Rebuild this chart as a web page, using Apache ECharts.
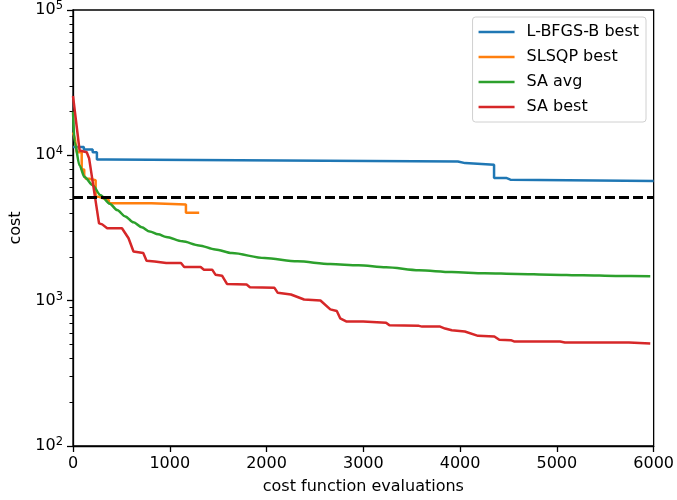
<!DOCTYPE html>
<html>
<head>
<meta charset="utf-8">
<script src="https://cdn.jsdelivr.net/npm/echarts@6/dist/echarts.min.js"></script>
<style>
  html, body { margin: 0; padding: 0; background: #fff; }
  #chart { width: 677px; height: 500px; }
</style>
</head>
<body>
<div id="chart"></div>
<script>
// L-BFGS-B best (step)
const lbfgsEvals = [0, 112, 203, 247, 349, 3977, 4052, 4351, 4476, 4520, 6000];
const lbfgsCost = [11400, 10950, 10500, 9360, 9070, 8840, 8610, 6990, 6800, 6665, 6665];

// SLSQP best (step)
const slsqpEvals = [0, 20, 40, 90, 116, 133, 167, 234, 269, 320, 371, 811, 1167, 1304];
const slsqpCost = [14400, 13000, 10500, 8000, 7300, 6900, 6730, 5180, 5050, 4910, 4680, 4590, 4030, 4030];

// SA avg
const saAvgEvals = [0, 17, 68, 119, 203, 285, 380, 456, 540, 625, 710, 793, 880, 963, 1130, 1302, 1470, 1642, 1981, 2319, 2659, 2950, 3235, 3575, 3914, 4253, 4592, 4931, 5270, 5609, 5965];
const saAvgCost = [20000, 12300, 8500, 7100, 6230, 5310, 4650, 4200, 3800, 3460, 3200, 2990, 2860, 2740, 2560, 2400, 2250, 2124, 1963, 1864, 1786, 1750, 1697, 1618, 1575, 1543, 1527, 1510, 1496, 1480, 1472];

// SA best
const saBestEvals = [0, 68, 142, 167, 269, 302, 353, 506, 574, 625, 726, 760, 844, 963, 1116, 1149, 1319, 1353, 1438, 1472, 1540, 1591, 1794, 1828, 2082, 2116, 2252, 2388, 2557, 2659, 2726, 2761, 2828, 2998, 3235, 3270, 3575, 3608, 3794, 3845, 3914, 4049, 4185, 4354, 4405, 4524, 4557, 5033, 5083, 5745, 5965];
const saBestCost = [25600, 10800, 10500, 9500, 3400, 3350, 3150, 3150, 2690, 2180, 2125, 1880, 1860, 1815, 1815, 1704, 1704, 1634, 1634, 1510, 1486, 1304, 1290, 1239, 1225, 1132, 1102, 1019, 1003, 871, 849, 756, 718, 718, 706, 677, 671, 663, 663, 643, 626, 613, 573, 567, 538, 535, 524, 524, 516, 516, 508];

const threshold = 5150;

const xTicks = [0, 1000, 2000, 3000, 4000, 5000, 6000];
const yMinorTicks = [];
[100, 1000, 10000].forEach((d) => {
  for (let k = 2; k <= 9; k++) yMinorTicks.push(k * d);
});

const zip = (xs, ys) => xs.map((x, i) => [x, ys[i]]);

const font = 'DejaVu Sans';
const chart = echarts.init(document.getElementById('chart'), null, { renderer: 'canvas' });

const lineSeries = (name, data, color, step) => ({
  name,
  type: 'line',
  data,
  step: step ? 'end' : false,
  showSymbol: false,
  symbol: 'none',
  lineStyle: { color, width: 2.5 },
  itemStyle: { color },
  animation: false,
});

const option = {
  backgroundColor: '#fff',
  animation: false,
  textStyle: { fontFamily: font, color: '#000' },
  grid: {
    left: 65,
    right: 22,
    top: 10,
    bottom: 51,
    show: true,
    borderColor: '#000',
    borderWidth: 1.3,
    backgroundColor: 'transparent',
  },
  legend: {
    orient: 'vertical',
    right: 31,
    top: 17,
    icon: 'rect',
    itemWidth: 36,
    itemHeight: 2.5,
    itemGap: 9,
    padding: [7, 7, 7, 6],
    backgroundColor: '#fff',
    borderColor: '#d0d0d0',
    borderWidth: 1,
    borderRadius: 3,
    textStyle: { fontFamily: font, fontSize: 16, color: '#000', lineHeight: 16, padding: [0, 0, 0, 7] },
    data: ['L-BFGS-B best', 'SLSQP best', 'SA avg', 'SA best'],
  },
  xAxis: {
    type: 'value',
    min: 0,
    max: 6000,
    interval: 1000,
    name: 'cost function evaluations',
    nameLocation: 'middle',
    nameGap: 33,
    nameTextStyle: { fontFamily: font, fontSize: 16, color: '#000' },
    axisLine: { show: true, lineStyle: { color: '#000', width: 1.3 } },
    axisTick: { show: true, length: 6, lineStyle: { color: '#000', width: 1.3 }, customValues: xTicks },
    axisLabel: {
      fontFamily: font, fontSize: 16, color: '#000', margin: 10,
      customValues: xTicks,
      formatter: (v) => String(v),
    },
    splitLine: { show: false },
  },
  yAxis: [
    {
      type: 'log',
      logBase: 10,
      min: 100,
      max: 100000,
      name: 'cost',
      nameLocation: 'middle',
      nameGap: 49,
      nameTextStyle: { fontFamily: font, fontSize: 16, color: '#000' },
      axisLine: { show: true, lineStyle: { color: '#000', width: 1.3 } },
      axisTick: { show: true, length: 6, lineStyle: { color: '#000', width: 1.3 } },
      axisLabel: {
        margin: 10,
        formatter: (v) => '{b|10}{s|' + Math.round(Math.log10(v)) + '}',
        rich: {
          b: { fontFamily: font, fontSize: 16, color: '#000' },
          s: { fontFamily: font, fontSize: 11.5, color: '#000', padding: [0, 0, 8, 0] },
        },
      },
      splitLine: { show: false },
    },
    {
      type: 'log',
      logBase: 10,
      min: 100,
      max: 100000,
      position: 'left',
      axisLine: { show: false },
      axisLabel: { show: false },
      axisTick: { show: true, length: 3.5, lineStyle: { color: '#000', width: 1 }, customValues: yMinorTicks },
      splitLine: { show: false },
    },
  ],
  series: [
    lineSeries('L-BFGS-B best', zip(lbfgsEvals, lbfgsCost), '#1f77b4', true),
    lineSeries('SLSQP best', zip(slsqpEvals, slsqpCost), '#ff7f0e', true),
    Object.assign(lineSeries('SA avg', zip(saAvgEvals, saAvgCost), '#2ca02c', false), {
      smooth: 0.3,
      smoothMonotone: 'x',
    }),
    Object.assign(lineSeries('SA best', zip(saBestEvals, saBestCost), '#d62728', false), {
      markLine: {
        silent: true,
        symbol: 'none',
        label: { show: false },
        lineStyle: { color: '#000', type: [10, 4], width: 3 },
        data: [{ yAxis: threshold }],
        animation: false,
      },
    }),
  ],
};

chart.setOption(option);
</script>
</body>
</html>
